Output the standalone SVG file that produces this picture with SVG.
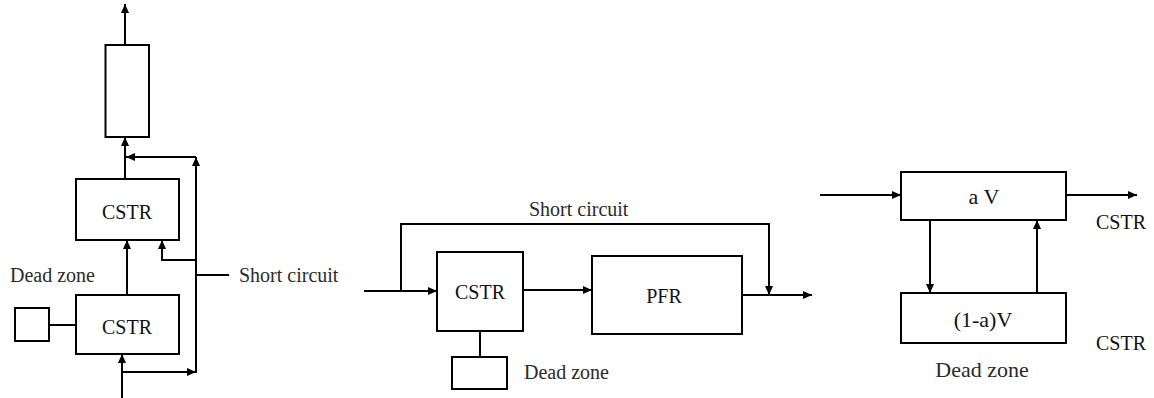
<svg xmlns="http://www.w3.org/2000/svg" width="1154" height="398" viewBox="0 0 1154 398">
<defs>
<style>
.box{fill:#fff;stroke:#000;stroke-width:2}
.ln{fill:none;stroke:#000;stroke-width:2}
.ar{fill:none;stroke:#000;stroke-width:2;marker-end:url(#ah)}
text{font-family:"Liberation Serif","Times New Roman",serif;fill:#111}
.t20{font-size:20px}
.t22{font-size:22px}
.mid{text-anchor:middle}
.g{fill:#2a2a2a}
</style>
<marker id="ah" markerUnits="userSpaceOnUse" markerWidth="9" markerHeight="8" refX="9" refY="4" orient="auto">
<path d="M0,0 L9,4 L0,8 z" fill="#000"/>
</marker>
</defs>

<g id="connectors">
<!-- left diagram -->
<line class="ar" x1="125" y1="45" x2="125" y2="4"/>
<line class="ar" x1="125" y1="179" x2="125" y2="137"/>
<line class="ar" x1="127" y1="295" x2="127" y2="240"/>
<line class="ar" x1="122" y1="398" x2="122" y2="354"/>
<line class="ar" x1="122" y1="372" x2="196" y2="372"/>
<line class="ar" x1="196" y1="373" x2="196" y2="157"/>
<line class="ar" x1="196" y1="157" x2="126" y2="157"/>
<path class="ar" d="M196,260 H162 V240"/>
<line class="ln" x1="196" y1="275" x2="229" y2="275"/>
<line class="ln" x1="49" y1="325" x2="76" y2="325"/>
<!-- middle diagram -->
<line class="ar" x1="364" y1="291" x2="437" y2="291"/>
<path class="ar" d="M401,291 V224 H769 V295"/>
<line class="ar" x1="523" y1="290" x2="592" y2="290"/>
<line class="ar" x1="742" y1="295" x2="812" y2="295"/>
<line class="ln" x1="480" y1="331" x2="480" y2="357"/>
<!-- right diagram -->
<line class="ar" x1="820" y1="195" x2="901" y2="195"/>
<line class="ar" x1="1066" y1="195" x2="1137" y2="195"/>
<line class="ar" x1="930" y1="220" x2="930" y2="293"/>
<line class="ar" x1="1037" y1="293" x2="1037" y2="220"/>
</g>

<g id="left-pfr"><rect class="box" x="105.5" y="45" width="43.5" height="92"/></g>
<g id="left-cstr-upper"><rect class="box" x="76" y="179" width="103" height="61"/><text class="t20 mid" x="127" y="219">CSTR</text></g>
<g id="left-cstr-lower"><rect class="box" x="76" y="295" width="103" height="59"/><text class="t20 mid" x="127" y="334">CSTR</text></g>
<g id="left-dead"><rect class="box" x="15" y="308" width="34" height="33"/><text class="t20 g" x="10" y="282">Dead zone</text></g>
<g id="left-short"><text class="t20 g" x="239" y="282">Short circuit</text></g>

<g id="mid-cstr"><rect class="box" x="437" y="252" width="86" height="79"/><text class="t20 mid" x="480" y="299">CSTR</text></g>
<g id="mid-pfr"><rect class="box" x="592" y="256" width="150" height="78"/><text class="t20 mid" x="664" y="303">PFR</text></g>
<g id="mid-dead"><rect class="box" x="452" y="357" width="55" height="32"/><text class="t20 g" x="524" y="379">Dead zone</text></g>
<g id="mid-short"><text class="t20 g" x="529" y="216">Short circuit</text></g>

<g id="right-av"><rect class="box" x="901" y="172" width="165" height="48"/><text class="t22 mid" x="984" y="204">a V</text><text class="t20" x="1096" y="229">CSTR</text></g>
<g id="right-dead"><rect class="box" x="901" y="293" width="165" height="50"/><text class="t22 mid" x="983" y="327">(1-a)V</text><text class="t20" x="1096" y="350">CSTR</text><text class="t22 mid g" x="982" y="377">Dead zone</text></g>
</svg>
